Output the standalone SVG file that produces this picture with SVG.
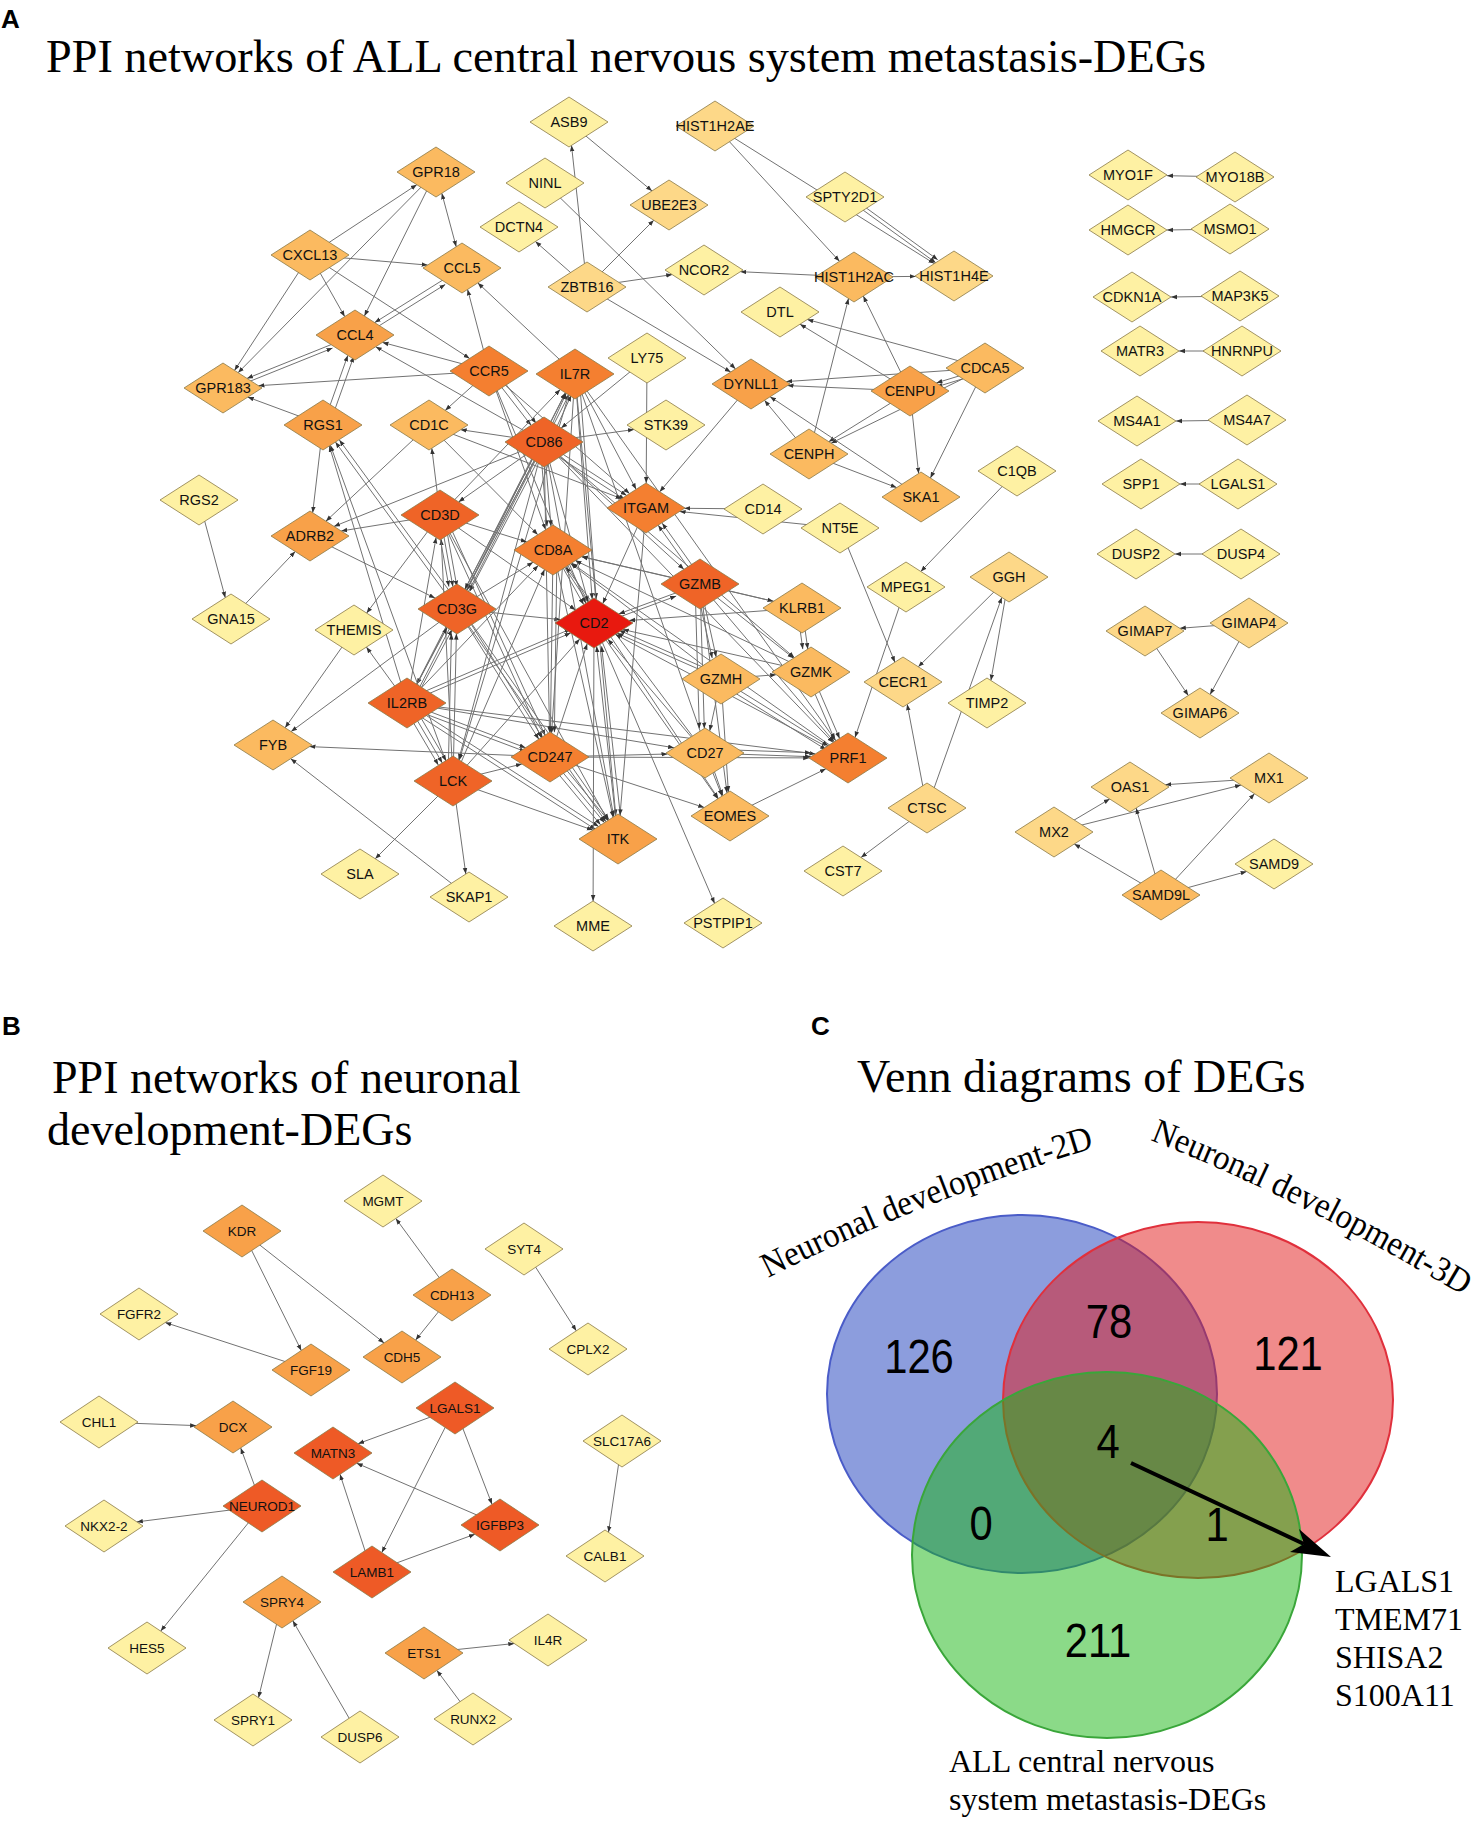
<svg xmlns="http://www.w3.org/2000/svg" width="1477" height="1825" viewBox="0 0 1477 1825">
<defs>
<style>
.e line{stroke:#727272;stroke-width:1;fill:none;marker-end:url(#ar)}
line.bi{marker-start:url(#ars)}
.d{stroke:#8a7a48;stroke-width:0.8}
.c0{fill:#E8190F}.c1{fill:#EF6427}.c2{fill:#F47F30}.c3{fill:#F8A149}.c4{fill:#FBBA60}.c5{fill:#FDD888}.c6{fill:#FEF1A3}.cb{fill:#EE5A26}
.t{font-family:'Liberation Sans',Arial,sans-serif;font-size:14.5px;fill:#111;text-anchor:middle}
.tb{font-family:'Liberation Sans',Arial,sans-serif;font-size:13.5px;fill:#111;text-anchor:middle}
.ttl{font-family:'Liberation Serif','Times New Roman',serif;font-size:46px;fill:#000}
.lbl{font-family:'Liberation Sans',Arial,sans-serif;font-weight:bold;font-size:26px;fill:#000}
.num{font-family:'Liberation Sans',Arial,sans-serif;font-size:48px;fill:#000;text-anchor:middle}
.ser{font-family:'Liberation Serif','Times New Roman',serif;fill:#000}
</style>
<marker id="ar" viewBox="0 0 8 8" refX="8" refY="4" markerWidth="6" markerHeight="6" orient="auto" markerUnits="userSpaceOnUse"><path d="M0,1 L8,4 L0,7z" fill="#333"/></marker>
<marker id="ars" viewBox="0 0 8 8" refX="8" refY="4" markerWidth="6" markerHeight="6" orient="auto-start-reverse" markerUnits="userSpaceOnUse"><path d="M0,1 L8,4 L0,7z" fill="#333"/></marker>
<polygon id="dm" points="-39,0 0,-25 39,0 0,25"/>
<polygon id="dmb" points="-39,0 0,-26 39,0 0,26"/>
<path id="p2d" d="M768,1278 Q930,1196 1117,1141"/>
<path id="p3d" d="M1150,1140 Q1316,1205 1490,1312"/>
</defs>
<rect width="1477" height="1825" fill="#fff"/>

<text class="lbl" x="1" y="28">A</text>
<text class="ttl" x="46" y="72" textLength="1160" lengthAdjust="spacingAndGlyphs">PPI networks of ALL central nervous system metastasis-DEGs</text>

<g id="edges-A" class="e">
<line x1="310" y1="255" x2="416.8" y2="184.7"/>
<line x1="310" y1="255" x2="427.6" y2="265.1"/>
<line x1="310" y1="255" x2="234.5" y2="370.4"/>
<line x1="310" y1="255" x2="344.7" y2="316.6"/>
<line x1="310" y1="255" x2="469.6" y2="358.4"/>
<line x1="436" y1="172" x2="238.1" y2="372.7"/>
<line x1="436" y1="172" x2="364.4" y2="316"/>
<line class="bi" x1="441.8" y1="193.3" x2="456.2" y2="246.7"/>
<line x1="462" y1="268" x2="374.7" y2="322.6"/>
<line x1="355" y1="335" x2="442.3" y2="280.4" transform="translate(3,4)"/>
<line x1="489" y1="371" x2="467.6" y2="289.4"/>
<line x1="575" y1="374" x2="477.8" y2="282.9"/>
<line x1="355" y1="335" x2="247" y2="378.4"/>
<line x1="223" y1="388" x2="331" y2="344.6" transform="translate(1.5,3.5)"/>
<line x1="489" y1="371" x2="382.5" y2="342.4"/>
<line x1="489" y1="371" x2="258.5" y2="385.7"/>
<line x1="323" y1="425" x2="247.7" y2="397.1"/>
<line x1="323" y1="425" x2="347.8" y2="355.4"/>
<line x1="323" y1="425" x2="347.8" y2="355.4" transform="translate(6,1)"/>
<line x1="544" y1="442" x2="375.7" y2="346.7"/>
<line x1="489" y1="371" x2="445.2" y2="410.4"/>
<line x1="544" y1="442" x2="460.7" y2="429.7"/>
<line x1="489" y1="371" x2="531.1" y2="425.3"/>
<line x1="489" y1="371" x2="531.1" y2="425.3" transform="translate(5,-2)"/>
<line x1="489" y1="371" x2="629.5" y2="493.6"/>
<line x1="489" y1="371" x2="585.8" y2="603.3"/>
<line x1="489" y1="371" x2="545.7" y2="529.7"/>
<line x1="544" y1="442" x2="566.2" y2="393.3"/>
<line x1="544" y1="442" x2="566.2" y2="393.3" transform="translate(5,2)"/>
<line x1="407" y1="703" x2="565.4" y2="392.8"/>
<line x1="407" y1="703" x2="565.4" y2="392.8" transform="translate(4,1)"/>
<line x1="457" y1="609" x2="565.5" y2="392.9"/>
<line x1="440" y1="515" x2="560.2" y2="389.5"/>
<line x1="575" y1="374" x2="592.2" y2="599.2"/>
<line x1="575" y1="374" x2="592.2" y2="599.2" transform="translate(4,0)"/>
<line x1="575" y1="374" x2="636.1" y2="489.3"/>
<line x1="575" y1="374" x2="551.6" y2="733"/>
<line x1="575" y1="374" x2="615.8" y2="815.4"/>
<line x1="575" y1="374" x2="722.8" y2="795.6"/>
<line x1="575" y1="374" x2="835.8" y2="740.8"/>
<line x1="575" y1="374" x2="459.3" y2="760"/>
<line x1="544" y1="442" x2="626.6" y2="495.4"/>
<line x1="544" y1="442" x2="626.6" y2="495.4" transform="translate(-2,4)"/>
<line x1="544" y1="442" x2="634" y2="429.5"/>
<line x1="647" y1="358" x2="561.2" y2="428"/>
<line x1="544" y1="442" x2="334" y2="526.4"/>
<line x1="544" y1="442" x2="588.1" y2="601.8"/>
<line x1="544" y1="442" x2="551" y2="526.3"/>
<line x1="544" y1="442" x2="551" y2="526.3" transform="translate(-4,0)"/>
<line x1="544" y1="442" x2="466.8" y2="590.3"/>
<line x1="544" y1="442" x2="466.8" y2="590.3" transform="translate(3,1)"/>
<line x1="544" y1="442" x2="466.8" y2="590.3" transform="translate(-2,-1)"/>
<line x1="544" y1="442" x2="416.8" y2="684.3"/>
<line x1="544" y1="442" x2="458.7" y2="759.7"/>
<line x1="544" y1="442" x2="549.5" y2="732.3"/>
<line x1="544" y1="442" x2="683.9" y2="569.3"/>
<line x1="544" y1="442" x2="794.4" y2="657.7"/>
<line x1="544" y1="442" x2="833.1" y2="742.5"/>
<line x1="544" y1="442" x2="613.8" y2="816.7"/>
<line x1="544" y1="442" x2="458.6" y2="501.9"/>
<line x1="440" y1="515" x2="431.8" y2="448.2"/>
<line x1="429" y1="425" x2="325.9" y2="521.2"/>
<line x1="429" y1="425" x2="537.8" y2="534.7"/>
<line x1="429" y1="425" x2="621.6" y2="498.7"/>
<line x1="440" y1="515" x2="341.2" y2="531"/>
<line x1="323" y1="425" x2="312.7" y2="512.7"/>
<line x1="231" y1="619" x2="295.2" y2="551.5"/>
<line x1="199" y1="500" x2="225.3" y2="597.7"/>
<line x1="310" y1="536" x2="435" y2="598.1"/>
<line x1="457" y1="609" x2="335.4" y2="442"/>
<line x1="457" y1="609" x2="335.4" y2="442" transform="translate(4,-2)"/>
<line x1="407" y1="703" x2="329.3" y2="445.9"/>
<line x1="453" y1="781" x2="330.4" y2="445.3"/>
<line x1="354" y1="630" x2="285.1" y2="727.8"/>
<line x1="407" y1="703" x2="366.4" y2="647.1"/>
<line x1="457" y1="609" x2="291.1" y2="731.6"/>
<line x1="440" y1="515" x2="366.6" y2="613.1"/>
<line x1="550" y1="757" x2="309.5" y2="746.6"/>
<line x1="469" y1="897" x2="290.7" y2="758.7"/>
<line x1="453" y1="781" x2="375.2" y2="858.8"/>
<line x1="453" y1="781" x2="465.8" y2="874"/>
<line x1="453" y1="781" x2="521.9" y2="764"/>
<line x1="453" y1="781" x2="592.8" y2="830.1"/>
<line x1="453" y1="781" x2="579.8" y2="638.9"/>
<line x1="453" y1="781" x2="456.4" y2="633.6"/>
<line x1="453" y1="781" x2="456.4" y2="633.6" transform="translate(-5,0)"/>
<line x1="453" y1="781" x2="441.2" y2="539.2"/>
<line x1="453" y1="781" x2="544.5" y2="569.6"/>
<line x1="407" y1="703" x2="442.3" y2="762.9"/>
<line x1="407" y1="703" x2="442.3" y2="762.9" transform="translate(-4,2)"/>
<line x1="407" y1="703" x2="442.3" y2="762.9" transform="translate(4,-2)"/>
<line x1="407" y1="703" x2="570.6" y2="633"/>
<line x1="407" y1="703" x2="570.6" y2="633" transform="translate(0,-4)"/>
<line x1="407" y1="703" x2="447.1" y2="627.6"/>
<line x1="407" y1="703" x2="447.1" y2="627.6" transform="translate(5,2)"/>
<line x1="407" y1="703" x2="436.1" y2="537.5"/>
<line x1="407" y1="703" x2="525.5" y2="747.7"/>
<line x1="407" y1="703" x2="525.5" y2="747.7" transform="translate(0,4)"/>
<line x1="407" y1="703" x2="598.6" y2="826.5"/>
<line x1="407" y1="703" x2="598.6" y2="826.5" transform="translate(-3,3)"/>
<line x1="407" y1="703" x2="674.1" y2="747.8"/>
<line x1="407" y1="703" x2="815.4" y2="753.9"/>
<line x1="407" y1="703" x2="538.2" y2="565.5"/>
<line x1="440" y1="515" x2="452.9" y2="586.6"/>
<line x1="440" y1="515" x2="452.9" y2="586.6" transform="translate(-4,0)"/>
<line x1="440" y1="515" x2="452.9" y2="586.6" transform="translate(4,0)"/>
<line x1="440" y1="515" x2="526.7" y2="541.9"/>
<line x1="440" y1="515" x2="575.4" y2="609.9"/>
<line x1="440" y1="515" x2="541.2" y2="737.6"/>
<line x1="440" y1="515" x2="541.2" y2="737.6" transform="translate(4,-2)"/>
<line x1="440" y1="515" x2="607.8" y2="820.5"/>
<line x1="457" y1="609" x2="560.4" y2="619.6"/>
<line x1="457" y1="609" x2="533.1" y2="562.2"/>
<line x1="457" y1="609" x2="538.8" y2="739.2"/>
<line x1="457" y1="609" x2="538.8" y2="739.2" transform="translate(4,-1)"/>
<line x1="457" y1="609" x2="605.9" y2="821.7"/>
<line x1="457" y1="609" x2="605.9" y2="821.7" transform="translate(3,-2)"/>
<line x1="553" y1="550" x2="583.7" y2="604.6"/>
<line x1="553" y1="550" x2="583.7" y2="604.6" transform="translate(5,-2)"/>
<line x1="553" y1="550" x2="550.4" y2="732.2"/>
<line x1="553" y1="550" x2="550.4" y2="732.2" transform="translate(4,0)"/>
<line x1="553" y1="550" x2="613.1" y2="817.2"/>
<line x1="700" y1="584" x2="581.7" y2="556.6"/>
<line x1="721" y1="679" x2="570.7" y2="563.6"/>
<line x1="811" y1="672" x2="575.4" y2="560.6"/>
<line x1="848" y1="758" x2="571.6" y2="563.1"/>
<line x1="705" y1="753" x2="565.6" y2="566.9"/>
<line x1="802" y1="608" x2="581.6" y2="556.7"/>
<line x1="553" y1="550" x2="718.3" y2="798.5"/>
<line x1="700" y1="584" x2="618.8" y2="613.9"/>
<line x1="594" y1="623" x2="675.2" y2="593.1" transform="translate(1,3)"/>
<line x1="802" y1="608" x2="629.1" y2="620.5"/>
<line x1="811" y1="672" x2="622.8" y2="629.5"/>
<line x1="721" y1="679" x2="617.1" y2="633.2"/>
<line x1="721" y1="679" x2="617.1" y2="633.2" transform="translate(2,-3)"/>
<line x1="848" y1="758" x2="615.3" y2="634.3"/>
<line x1="705" y1="753" x2="607.8" y2="639.2"/>
<line x1="550" y1="757" x2="587.2" y2="643.7"/>
<line x1="618" y1="839" x2="596.6" y2="646.3"/>
<line x1="618" y1="839" x2="596.6" y2="646.3" transform="translate(5,0)"/>
<line x1="646" y1="508" x2="602.8" y2="603.6"/>
<line x1="594" y1="623" x2="714.6" y2="903.4"/>
<line x1="594" y1="623" x2="593.1" y2="901.1"/>
<line x1="594" y1="623" x2="717.9" y2="798.8"/>
<line x1="763" y1="509" x2="684.5" y2="508.3"/>
<line x1="840" y1="528" x2="679.6" y2="511.5"/>
<line x1="700" y1="584" x2="658.2" y2="525.2"/>
<line x1="700" y1="584" x2="658.2" y2="525.2" transform="translate(4,-2)"/>
<line x1="751" y1="384" x2="659.7" y2="491.8"/>
<line x1="647" y1="358" x2="646.2" y2="483.1"/>
<line x1="646" y1="508" x2="620" y2="815.3"/>
<line x1="700" y1="584" x2="773.5" y2="601.3"/>
<line x1="700" y1="584" x2="716.2" y2="657.1"/>
<line x1="700" y1="584" x2="716.2" y2="657.1" transform="translate(-4,1)"/>
<line x1="700" y1="584" x2="704.3" y2="728.5"/>
<line x1="700" y1="584" x2="704.3" y2="728.5" transform="translate(-5,0)"/>
<line x1="700" y1="584" x2="727" y2="792.9"/>
<line x1="700" y1="584" x2="834.2" y2="741.8"/>
<line x1="700" y1="584" x2="793.6" y2="658.2"/>
<line x1="721" y1="679" x2="776.2" y2="674.7"/>
<line x1="721" y1="679" x2="828.2" y2="745.7"/>
<line x1="721" y1="679" x2="828.2" y2="745.7" transform="translate(-2,4)"/>
<line x1="721" y1="679" x2="728.4" y2="792"/>
<line x1="721" y1="679" x2="709.7" y2="731"/>
<line x1="802" y1="608" x2="807.8" y2="649.1"/>
<line x1="802" y1="608" x2="807.8" y2="649.1" transform="translate(-5,0)"/>
<line x1="811" y1="672" x2="839.6" y2="738.4"/>
<line x1="811" y1="672" x2="839.6" y2="738.4" transform="translate(-5,1)"/>
<line x1="705" y1="753" x2="811" y2="756.7"/>
<line x1="705" y1="753" x2="811" y2="756.7" transform="translate(0,-4)"/>
<line x1="705" y1="753" x2="722.1" y2="796.1"/>
<line x1="550" y1="757" x2="667.5" y2="754"/>
<line x1="550" y1="757" x2="809.2" y2="757.9"/>
<line x1="550" y1="757" x2="704.2" y2="807.5"/>
<line x1="730" y1="816" x2="825.9" y2="768.8"/>
<line x1="906" y1="587" x2="855" y2="737.5"/>
<line x1="550" y1="757" x2="604.5" y2="822.7"/>
<line x1="550" y1="757" x2="604.5" y2="822.7" transform="translate(-4,2)"/>
<line x1="550" y1="757" x2="604.5" y2="822.7" transform="translate(4,-2)"/>
<line x1="840" y1="528" x2="894.9" y2="662.2"/>
<line x1="1017" y1="471" x2="920.8" y2="571.5"/>
<line x1="1009" y1="577" x2="918.3" y2="666.8"/>
<line x1="1009" y1="577" x2="990.9" y2="680.5"/>
<line x1="927" y1="808" x2="1001.8" y2="597.4"/>
<line x1="927" y1="808" x2="907.2" y2="704.3"/>
<line x1="927" y1="808" x2="861" y2="857.5"/>
<line x1="985" y1="368" x2="936.4" y2="382.9"/>
<line x1="985" y1="368" x2="936.4" y2="382.9" transform="translate(0,4)"/>
<line x1="910" y1="391" x2="800" y2="324.2"/>
<line x1="985" y1="368" x2="807.3" y2="319.5"/>
<line x1="985" y1="368" x2="786.2" y2="381.6"/>
<line x1="910" y1="391" x2="787.5" y2="385.6"/>
<line x1="910" y1="391" x2="828.8" y2="441.7"/>
<line x1="985" y1="368" x2="831.1" y2="443.2"/>
<line x1="809" y1="454" x2="764.5" y2="400.3"/>
<line x1="921" y1="497" x2="770.1" y2="396.7"/>
<line x1="809" y1="454" x2="896.6" y2="487.6"/>
<line x1="910" y1="391" x2="918.6" y2="473.6"/>
<line x1="985" y1="368" x2="930.4" y2="478"/>
<line x1="809" y1="454" x2="848.5" y2="298.5"/>
<line x1="910" y1="391" x2="863.3" y2="296"/>
<line x1="854" y1="277" x2="740.4" y2="271.7"/>
<line x1="854" y1="277" x2="915.6" y2="276.4"/>
<line x1="715" y1="126" x2="839.5" y2="261.3"/>
<line x1="715" y1="126" x2="934.3" y2="263.6"/>
<line x1="845" y1="197" x2="935.7" y2="262.7"/>
<line x1="845" y1="197" x2="935.7" y2="262.7" transform="translate(2,-3)"/>
<line x1="587" y1="287" x2="571.5" y2="145.4"/>
<line x1="569" y1="122" x2="652" y2="190.9"/>
<line x1="587" y1="287" x2="653.8" y2="220.2"/>
<line x1="587" y1="287" x2="535.4" y2="241.5"/>
<line x1="587" y1="287" x2="672.2" y2="274.6"/>
<line x1="587" y1="287" x2="730.7" y2="372"/>
<line x1="545" y1="183" x2="735.5" y2="368.9"/>
<line x1="1235" y1="177" x2="1167" y2="175.7"/>
<line x1="1230" y1="229" x2="1167" y2="230"/>
<line x1="1240" y1="296" x2="1171" y2="297"/>
<line x1="1242" y1="351" x2="1179" y2="351"/>
<line x1="1247" y1="420" x2="1176" y2="421"/>
<line x1="1238" y1="484" x2="1180" y2="484"/>
<line x1="1241" y1="554" x2="1175" y2="554"/>
<line x1="1249" y1="623" x2="1179.8" y2="628.3"/>
<line x1="1145" y1="631" x2="1188.3" y2="695.5"/>
<line x1="1249" y1="623" x2="1210.1" y2="694.5"/>
<line x1="1269" y1="778" x2="1165.4" y2="784.7"/>
<line x1="1054" y1="832" x2="1109.7" y2="799"/>
<line x1="1054" y1="832" x2="1241" y2="785"/>
<line x1="1161" y1="895" x2="1074.3" y2="844"/>
<line x1="1161" y1="895" x2="1136.1" y2="808.1"/>
<line x1="1161" y1="895" x2="1254.5" y2="793.7"/>
<line x1="1161" y1="895" x2="1246.7" y2="871.5"/>
</g>

<g id="nodes-A">
<g id="n-ASB9" transform="translate(569,122)"><use href="#dm" class="d c6"/><text class="t" y="5">ASB9</text></g>
<g id="n-HIST1H2AE" transform="translate(715,126)"><use href="#dm" class="d c5"/><text class="t" y="5">HIST1H2AE</text></g>
<g id="n-GPR18" transform="translate(436,172)"><use href="#dm" class="d c4"/><text class="t" y="5">GPR18</text></g>
<g id="n-NINL" transform="translate(545,183)"><use href="#dm" class="d c6"/><text class="t" y="5">NINL</text></g>
<g id="n-UBE2E3" transform="translate(669,205)"><use href="#dm" class="d c5"/><text class="t" y="5">UBE2E3</text></g>
<g id="n-SPTY2D1" transform="translate(845,197)"><use href="#dm" class="d c6"/><text class="t" y="5">SPTY2D1</text></g>
<g id="n-DCTN4" transform="translate(519,227)"><use href="#dm" class="d c6"/><text class="t" y="5">DCTN4</text></g>
<g id="n-CXCL13" transform="translate(310,255)"><use href="#dm" class="d c4"/><text class="t" y="5">CXCL13</text></g>
<g id="n-CCL5" transform="translate(462,268)"><use href="#dm" class="d c4"/><text class="t" y="5">CCL5</text></g>
<g id="n-ZBTB16" transform="translate(587,287)"><use href="#dm" class="d c5"/><text class="t" y="5">ZBTB16</text></g>
<g id="n-NCOR2" transform="translate(704,270)"><use href="#dm" class="d c6"/><text class="t" y="5">NCOR2</text></g>
<g id="n-HIST1H2AC" transform="translate(854,277)"><use href="#dm" class="d c4"/><text class="t" y="5">HIST1H2AC</text></g>
<g id="n-HIST1H4E" transform="translate(954,276)"><use href="#dm" class="d c5"/><text class="t" y="5">HIST1H4E</text></g>
<g id="n-DTL" transform="translate(780,312)"><use href="#dm" class="d c6"/><text class="t" y="5">DTL</text></g>
<g id="n-CCL4" transform="translate(355,335)"><use href="#dm" class="d c3"/><text class="t" y="5">CCL4</text></g>
<g id="n-CCR5" transform="translate(489,371)"><use href="#dm" class="d c2"/><text class="t" y="5">CCR5</text></g>
<g id="n-IL7R" transform="translate(575,374)"><use href="#dm" class="d c2"/><text class="t" y="5">IL7R</text></g>
<g id="n-LY75" transform="translate(647,358)"><use href="#dm" class="d c6"/><text class="t" y="5">LY75</text></g>
<g id="n-DYNLL1" transform="translate(751,384)"><use href="#dm" class="d c3"/><text class="t" y="5">DYNLL1</text></g>
<g id="n-CENPU" transform="translate(910,391)"><use href="#dm" class="d c3"/><text class="t" y="5">CENPU</text></g>
<g id="n-CDCA5" transform="translate(985,368)"><use href="#dm" class="d c4"/><text class="t" y="5">CDCA5</text></g>
<g id="n-GPR183" transform="translate(223,388)"><use href="#dm" class="d c4"/><text class="t" y="5">GPR183</text></g>
<g id="n-RGS1" transform="translate(323,425)"><use href="#dm" class="d c3"/><text class="t" y="5">RGS1</text></g>
<g id="n-CD1C" transform="translate(429,425)"><use href="#dm" class="d c4"/><text class="t" y="5">CD1C</text></g>
<g id="n-CD86" transform="translate(544,442)"><use href="#dm" class="d c1"/><text class="t" y="5">CD86</text></g>
<g id="n-STK39" transform="translate(666,425)"><use href="#dm" class="d c6"/><text class="t" y="5">STK39</text></g>
<g id="n-CENPH" transform="translate(809,454)"><use href="#dm" class="d c4"/><text class="t" y="5">CENPH</text></g>
<g id="n-SKA1" transform="translate(921,497)"><use href="#dm" class="d c4"/><text class="t" y="5">SKA1</text></g>
<g id="n-C1QB" transform="translate(1017,471)"><use href="#dm" class="d c6"/><text class="t" y="5">C1QB</text></g>
<g id="n-RGS2" transform="translate(199,500)"><use href="#dm" class="d c6"/><text class="t" y="5">RGS2</text></g>
<g id="n-CD3D" transform="translate(440,515)"><use href="#dm" class="d c1"/><text class="t" y="5">CD3D</text></g>
<g id="n-ITGAM" transform="translate(646,508)"><use href="#dm" class="d c2"/><text class="t" y="5">ITGAM</text></g>
<g id="n-CD14" transform="translate(763,509)"><use href="#dm" class="d c6"/><text class="t" y="5">CD14</text></g>
<g id="n-NT5E" transform="translate(840,528)"><use href="#dm" class="d c6"/><text class="t" y="5">NT5E</text></g>
<g id="n-ADRB2" transform="translate(310,536)"><use href="#dm" class="d c3"/><text class="t" y="5">ADRB2</text></g>
<g id="n-CD8A" transform="translate(553,550)"><use href="#dm" class="d c2"/><text class="t" y="5">CD8A</text></g>
<g id="n-GZMB" transform="translate(700,584)"><use href="#dm" class="d c1"/><text class="t" y="5">GZMB</text></g>
<g id="n-KLRB1" transform="translate(802,608)"><use href="#dm" class="d c4"/><text class="t" y="5">KLRB1</text></g>
<g id="n-MPEG1" transform="translate(906,587)"><use href="#dm" class="d c6"/><text class="t" y="5">MPEG1</text></g>
<g id="n-GGH" transform="translate(1009,577)"><use href="#dm" class="d c5"/><text class="t" y="5">GGH</text></g>
<g id="n-GNA15" transform="translate(231,619)"><use href="#dm" class="d c6"/><text class="t" y="5">GNA15</text></g>
<g id="n-THEMIS" transform="translate(354,630)"><use href="#dm" class="d c6"/><text class="t" y="5">THEMIS</text></g>
<g id="n-CD3G" transform="translate(457,609)"><use href="#dm" class="d c1"/><text class="t" y="5">CD3G</text></g>
<g id="n-CD2" transform="translate(594,623)"><use href="#dm" class="d c0"/><text class="t" y="5">CD2</text></g>
<g id="n-GZMH" transform="translate(721,679)"><use href="#dm" class="d c4"/><text class="t" y="5">GZMH</text></g>
<g id="n-GZMK" transform="translate(811,672)"><use href="#dm" class="d c4"/><text class="t" y="5">GZMK</text></g>
<g id="n-CECR1" transform="translate(903,682)"><use href="#dm" class="d c5"/><text class="t" y="5">CECR1</text></g>
<g id="n-TIMP2" transform="translate(987,703)"><use href="#dm" class="d c6"/><text class="t" y="5">TIMP2</text></g>
<g id="n-IL2RB" transform="translate(407,703)"><use href="#dm" class="d c1"/><text class="t" y="5">IL2RB</text></g>
<g id="n-FYB" transform="translate(273,745)"><use href="#dm" class="d c4"/><text class="t" y="5">FYB</text></g>
<g id="n-CD247" transform="translate(550,757)"><use href="#dm" class="d c2"/><text class="t" y="5">CD247</text></g>
<g id="n-CD27" transform="translate(705,753)"><use href="#dm" class="d c4"/><text class="t" y="5">CD27</text></g>
<g id="n-PRF1" transform="translate(848,758)"><use href="#dm" class="d c2"/><text class="t" y="5">PRF1</text></g>
<g id="n-LCK" transform="translate(453,781)"><use href="#dm" class="d c1"/><text class="t" y="5">LCK</text></g>
<g id="n-EOMES" transform="translate(730,816)"><use href="#dm" class="d c4"/><text class="t" y="5">EOMES</text></g>
<g id="n-CTSC" transform="translate(927,808)"><use href="#dm" class="d c5"/><text class="t" y="5">CTSC</text></g>
<g id="n-ITK" transform="translate(618,839)"><use href="#dm" class="d c3"/><text class="t" y="5">ITK</text></g>
<g id="n-SLA" transform="translate(360,874)"><use href="#dm" class="d c6"/><text class="t" y="5">SLA</text></g>
<g id="n-SKAP1" transform="translate(469,897)"><use href="#dm" class="d c6"/><text class="t" y="5">SKAP1</text></g>
<g id="n-CST7" transform="translate(843,871)"><use href="#dm" class="d c6"/><text class="t" y="5">CST7</text></g>
<g id="n-MME" transform="translate(593,926)"><use href="#dm" class="d c6"/><text class="t" y="5">MME</text></g>
<g id="n-PSTPIP1" transform="translate(723,923)"><use href="#dm" class="d c6"/><text class="t" y="5">PSTPIP1</text></g>
<g id="n-MYO1F" transform="translate(1128,175)"><use href="#dm" class="d c6"/><text class="t" y="5">MYO1F</text></g>
<g id="n-MYO18B" transform="translate(1235,177)"><use href="#dm" class="d c6"/><text class="t" y="5">MYO18B</text></g>
<g id="n-HMGCR" transform="translate(1128,230)"><use href="#dm" class="d c6"/><text class="t" y="5">HMGCR</text></g>
<g id="n-MSMO1" transform="translate(1230,229)"><use href="#dm" class="d c6"/><text class="t" y="5">MSMO1</text></g>
<g id="n-CDKN1A" transform="translate(1132,297)"><use href="#dm" class="d c6"/><text class="t" y="5">CDKN1A</text></g>
<g id="n-MAP3K5" transform="translate(1240,296)"><use href="#dm" class="d c6"/><text class="t" y="5">MAP3K5</text></g>
<g id="n-MATR3" transform="translate(1140,351)"><use href="#dm" class="d c6"/><text class="t" y="5">MATR3</text></g>
<g id="n-HNRNPU" transform="translate(1242,351)"><use href="#dm" class="d c6"/><text class="t" y="5">HNRNPU</text></g>
<g id="n-MS4A1" transform="translate(1137,421)"><use href="#dm" class="d c6"/><text class="t" y="5">MS4A1</text></g>
<g id="n-MS4A7" transform="translate(1247,420)"><use href="#dm" class="d c6"/><text class="t" y="5">MS4A7</text></g>
<g id="n-SPP1" transform="translate(1141,484)"><use href="#dm" class="d c6"/><text class="t" y="5">SPP1</text></g>
<g id="n-a-LGALS1" transform="translate(1238,484)"><use href="#dm" class="d c6"/><text class="t" y="5">LGALS1</text></g>
<g id="n-DUSP2" transform="translate(1136,554)"><use href="#dm" class="d c6"/><text class="t" y="5">DUSP2</text></g>
<g id="n-DUSP4" transform="translate(1241,554)"><use href="#dm" class="d c6"/><text class="t" y="5">DUSP4</text></g>
<g id="n-GIMAP7" transform="translate(1145,631)"><use href="#dm" class="d c5"/><text class="t" y="5">GIMAP7</text></g>
<g id="n-GIMAP4" transform="translate(1249,623)"><use href="#dm" class="d c5"/><text class="t" y="5">GIMAP4</text></g>
<g id="n-GIMAP6" transform="translate(1200,713)"><use href="#dm" class="d c5"/><text class="t" y="5">GIMAP6</text></g>
<g id="n-OAS1" transform="translate(1130,787)"><use href="#dm" class="d c5"/><text class="t" y="5">OAS1</text></g>
<g id="n-MX1" transform="translate(1269,778)"><use href="#dm" class="d c5"/><text class="t" y="5">MX1</text></g>
<g id="n-MX2" transform="translate(1054,832)"><use href="#dm" class="d c5"/><text class="t" y="5">MX2</text></g>
<g id="n-SAMD9L" transform="translate(1161,895)"><use href="#dm" class="d c4"/><text class="t" y="5">SAMD9L</text></g>
<g id="n-SAMD9" transform="translate(1274,864)"><use href="#dm" class="d c6"/><text class="t" y="5">SAMD9</text></g>
</g>

<text class="lbl" x="2" y="1035">B</text>
<text class="ttl" x="52" y="1093">PPI networks of neuronal</text>
<text class="ttl" x="47" y="1145">development-DEGs</text>

<g id="edges-B" class="e">
<line x1="242" y1="1231" x2="301.3" y2="1350.5"/>
<line x1="242" y1="1231" x2="384.1" y2="1342.9"/>
<line x1="452" y1="1295" x2="395.8" y2="1218.5"/>
<line x1="452" y1="1295" x2="415.6" y2="1340.1"/>
<line x1="311" y1="1370" x2="165.2" y2="1322.5"/>
<line x1="524" y1="1249" x2="576.3" y2="1330.8"/>
<line x1="99" y1="1422" x2="196.1" y2="1425.6"/>
<line x1="262" y1="1506" x2="240.7" y2="1447.9"/>
<line x1="262" y1="1506" x2="136.8" y2="1521.9"/>
<line x1="262" y1="1506" x2="160.7" y2="1631.1"/>
<line x1="455" y1="1408" x2="358.1" y2="1443.7"/>
<line x1="455" y1="1408" x2="381.8" y2="1552.6"/>
<line x1="455" y1="1408" x2="492" y2="1504.3"/>
<line x1="500" y1="1525" x2="356.7" y2="1463.2"/>
<line x1="372" y1="1572" x2="340" y2="1474.3"/>
<line x1="372" y1="1572" x2="474.9" y2="1534.2"/>
<line x1="282" y1="1602" x2="258.5" y2="1697.7"/>
<line x1="360" y1="1737" x2="292.8" y2="1620.8"/>
<line x1="424" y1="1653" x2="514.3" y2="1643.5"/>
<line x1="473" y1="1719" x2="436.9" y2="1670.4"/>
<line x1="622" y1="1441" x2="608.5" y2="1532.3"/>
</g>

<g id="nodes-B">
<g id="n-KDR" transform="translate(242,1231)"><use href="#dmb" class="d c3"/><text class="tb" y="5">KDR</text></g>
<g id="n-MGMT" transform="translate(383,1201)"><use href="#dmb" class="d c6"/><text class="tb" y="5">MGMT</text></g>
<g id="n-SYT4" transform="translate(524,1249)"><use href="#dmb" class="d c6"/><text class="tb" y="5">SYT4</text></g>
<g id="n-CDH13" transform="translate(452,1295)"><use href="#dmb" class="d c3"/><text class="tb" y="5">CDH13</text></g>
<g id="n-FGFR2" transform="translate(139,1314)"><use href="#dmb" class="d c6"/><text class="tb" y="5">FGFR2</text></g>
<g id="n-CDH5" transform="translate(402,1357)"><use href="#dmb" class="d c3"/><text class="tb" y="5">CDH5</text></g>
<g id="n-FGF19" transform="translate(311,1370)"><use href="#dmb" class="d c3"/><text class="tb" y="5">FGF19</text></g>
<g id="n-CPLX2" transform="translate(588,1349)"><use href="#dmb" class="d c6"/><text class="tb" y="5">CPLX2</text></g>
<g id="n-CHL1" transform="translate(99,1422)"><use href="#dmb" class="d c6"/><text class="tb" y="5">CHL1</text></g>
<g id="n-DCX" transform="translate(233,1427)"><use href="#dmb" class="d c3"/><text class="tb" y="5">DCX</text></g>
<g id="n-b-LGALS1" transform="translate(455,1408)"><use href="#dmb" class="d cb"/><text class="tb" y="5">LGALS1</text></g>
<g id="n-SLC17A6" transform="translate(622,1441)"><use href="#dmb" class="d c6"/><text class="tb" y="5">SLC17A6</text></g>
<g id="n-MATN3" transform="translate(333,1453)"><use href="#dmb" class="d cb"/><text class="tb" y="5">MATN3</text></g>
<g id="n-NEUROD1" transform="translate(262,1506)"><use href="#dmb" class="d cb"/><text class="tb" y="5">NEUROD1</text></g>
<g id="n-NKX2-2" transform="translate(104,1526)"><use href="#dmb" class="d c6"/><text class="tb" y="5">NKX2-2</text></g>
<g id="n-IGFBP3" transform="translate(500,1525)"><use href="#dmb" class="d cb"/><text class="tb" y="5">IGFBP3</text></g>
<g id="n-CALB1" transform="translate(605,1556)"><use href="#dmb" class="d c6"/><text class="tb" y="5">CALB1</text></g>
<g id="n-LAMB1" transform="translate(372,1572)"><use href="#dmb" class="d cb"/><text class="tb" y="5">LAMB1</text></g>
<g id="n-SPRY4" transform="translate(282,1602)"><use href="#dmb" class="d c3"/><text class="tb" y="5">SPRY4</text></g>
<g id="n-ETS1" transform="translate(424,1653)"><use href="#dmb" class="d c3"/><text class="tb" y="5">ETS1</text></g>
<g id="n-IL4R" transform="translate(548,1640)"><use href="#dmb" class="d c6"/><text class="tb" y="5">IL4R</text></g>
<g id="n-HES5" transform="translate(147,1648)"><use href="#dmb" class="d c6"/><text class="tb" y="5">HES5</text></g>
<g id="n-SPRY1" transform="translate(253,1720)"><use href="#dmb" class="d c6"/><text class="tb" y="5">SPRY1</text></g>
<g id="n-RUNX2" transform="translate(473,1719)"><use href="#dmb" class="d c6"/><text class="tb" y="5">RUNX2</text></g>
<g id="n-DUSP6" transform="translate(360,1737)"><use href="#dmb" class="d c6"/><text class="tb" y="5">DUSP6</text></g>
</g>

<text class="lbl" x="811" y="1035">C</text>
<text class="ttl" x="857" y="1092">Venn diagrams of DEGs</text>
<g id="venn">
<ellipse cx="1022" cy="1394" rx="195" ry="179" fill="rgb(25,59,187)" fill-opacity="0.5" stroke="#4a5cc8" stroke-width="2"/>
<ellipse cx="1198" cy="1400" rx="195" ry="178" fill="rgb(225,23,23)" fill-opacity="0.5" stroke="#e0303c" stroke-width="2"/>
<ellipse cx="1107" cy="1555" rx="195" ry="183" fill="rgb(23,181,17)" fill-opacity="0.5" stroke="#3aa63a" stroke-width="2"/>
</g>
<text class="ser" font-size="35"><textPath href="#p2d" textLength="352" lengthAdjust="spacingAndGlyphs">Neuronal development-2D</textPath></text>
<text class="ser" font-size="35"><textPath href="#p3d" textLength="350" lengthAdjust="spacingAndGlyphs">Neuronal development-3D</textPath></text>
<text class="num" transform="translate(919,1373) scale(0.87,1)">126</text>
<text class="num" transform="translate(1109,1338) scale(0.87,1)">78</text>
<text class="num" transform="translate(1288,1370) scale(0.87,1)">121</text>
<text class="num" transform="translate(1108,1458) scale(0.87,1)">4</text>
<text class="num" transform="translate(981,1540) scale(0.87,1)">0</text>
<text class="num" transform="translate(1217,1541) scale(0.87,1)">1</text>
<text class="num" transform="translate(1098,1657) scale(0.87,1)">211</text>
<g id="venn-arrow">
<line x1="1131" y1="1463" x2="1304" y2="1544" stroke="#000" stroke-width="4"/>
<polygon points="1331,1557 1290,1552 1304,1544 1299,1529" fill="#000"/>
</g>
<text class="ser" font-size="32" x="1335" y="1592">LGALS1</text>
<text class="ser" font-size="32" x="1335" y="1630">TMEM71</text>
<text class="ser" font-size="32" x="1335" y="1668">SHISA2</text>
<text class="ser" font-size="32" x="1335" y="1706">S100A11</text>
<text class="ser" font-size="32" x="949" y="1772">ALL central nervous</text>
<text class="ser" font-size="32" x="949" y="1810">system metastasis-DEGs</text>
</svg>
